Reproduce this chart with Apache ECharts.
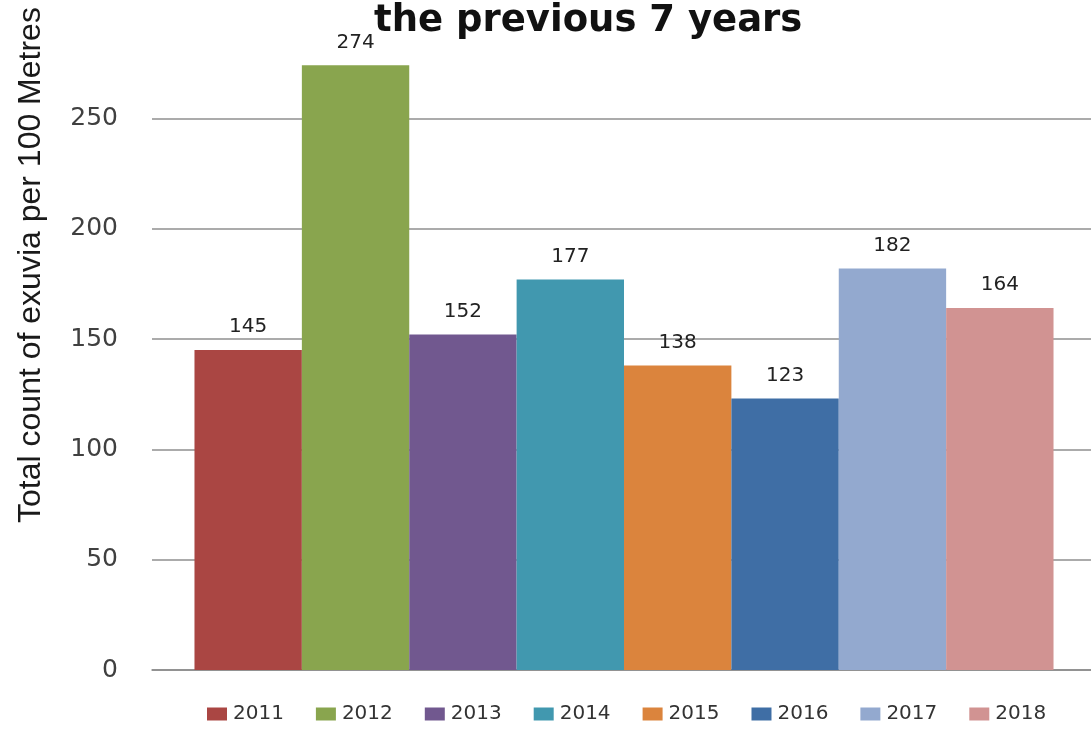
<!DOCTYPE html>
<html>
<head>
<meta charset="utf-8">
<script src="https://cdn.jsdelivr.net/npm/echarts@6/dist/echarts.min.js"></script>
<style>
  html, body { margin: 0; padding: 0; background: #fff; }
  #chart { width: 1091px; height: 754px; }
</style>
</head>
<body>
<div id="chart"></div>
<script>
// data
const years = ["2011", "2012", "2013", "2014", "2015", "2016", "2017", "2018"];
const counts = [145, 274, 152, 177, 138, 123, 182, 164];
const yTicks = [0, 50, 100, 150, 200, 250, 300];

// excel 2007 style palette
const colors = ["#aa4643", "#89a54e", "#71588f", "#4198af", "#db843d", "#3f6ea5", "#93a9cf", "#d19392"];

const chart = echarts.init(document.getElementById("chart"));

const series = years.map(function (y, i) {
  return {
    name: y,
    type: "bar",
    data: [counts[i]],
    barGap: "0%",
    barCategoryGap: "9%",
    itemStyle: { color: colors[i] },
    label: {
      show: true,
      position: "top",
      distance: 13,
      color: "#222",
      fontFamily: "DejaVu Sans",
      fontSize: 20
    }
  };
});

chart.setOption({
  animation: false,
  title: {
    text: "the previous 7 years",
    left: 369,
    top: -2,
    textStyle: {
      fontFamily: "DejaVu Sans",
      fontWeight: "bold",
      fontSize: 37,
      color: "#111"
    }
  },
  grid: {
    left: 152,
    right: -5,
    top: 8,
    bottom: 84,
    outerBoundsMode: "none"
  },
  legend: {
    data: years,
    left: 207,
    top: 704,
    width: 884,
    padding: 0,
    itemWidth: 20,
    itemHeight: 13,
    itemGap: 32,
    icon: "rect",
    textStyle: {
      fontFamily: "DejaVu Sans",
      fontSize: 20,
      color: "#333",
      padding: [0, 0, 0, 1]
    }
  },
  xAxis: {
    type: "category",
    data: [""],
    axisTick: { show: false },
    axisLabel: { show: false },
    axisLine: { lineStyle: { color: "#8a8a8a", width: 1.5 } }
  },
  yAxis: {
    type: "value",
    min: yTicks[0],
    max: yTicks[yTicks.length - 1],
    interval: 50,
    axisLine: { show: false },
    axisTick: { show: false },
    axisLabel: {
      showMaxLabel: false,
      margin: 34,
      fontFamily: "DejaVu Sans",
      fontSize: 25,
      color: "#404040"
    },
    splitLine: {
      show: true,
      showMaxLine: false,
      lineStyle: { color: "#8f8f8f", width: 1.5 }
    }
  },
  graphic: [
    {
      // y axis title, top part sits at the page edge like the source
      type: "text",
      x: 31,
      y: 265,
      rotation: Math.PI / 2,
      style: {
        text: "Total count of exuvia per 100 Metres",
        font: '32px "Liberation Sans"',
        fill: "#1a1a1a",
        textAlign: "center",
        textVerticalAlign: "middle"
      }
    }
  ],
  series: series
});
</script>
</body>
</html>
